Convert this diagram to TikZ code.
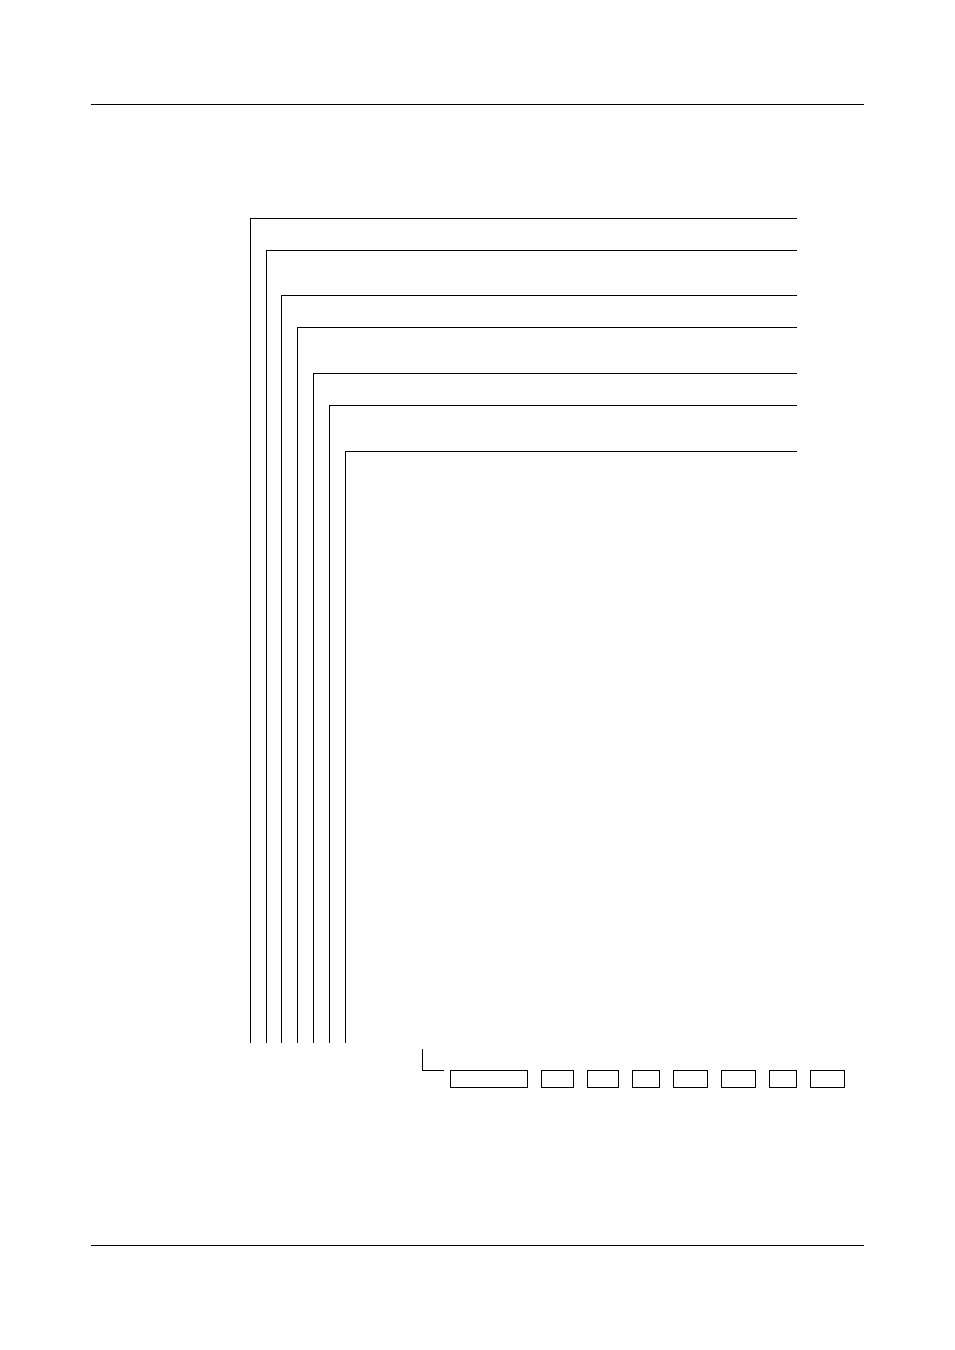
\documentclass[tikz,border=0pt]{standalone}
\begin{document}
\begin{tikzpicture}[x=1pt,y=-1pt,
  rule/.style={line width=0.9pt, black},
  frame/.style={line width=1pt, black},
  cell/.style={draw, line width=1pt, minimum height=17pt, inner sep=0pt, outer sep=0pt, anchor=north west}]
\useasboundingbox (0,0) rectangle (954,1350);
% header and footer rules
\coordinate (hl) at (91,104); \coordinate (hr) at (863.5,104);
\coordinate (fl) at (91,1245.3); \coordinate (fr) at (863.5,1245.3);
\draw[rule] (hl) -- (hr);
\draw[rule] (fl) -- (fr);
% nested L-shaped lines
\foreach \x/\y in {250.3/218.3, 266.3/250.3, 281.3/295.7, 297.3/327.3, 313.3/373.3, 329.3/405.3, 345.3/451.3}{
  \draw[frame] (\x,1043.3) -- (\x,\y) -- (796.7,\y);
}
% bracket
\coordinate (b1) at (422.3,1049.3);
\coordinate (b2) at (422.3,1070.3);
\coordinate (b3) at (444.3,1070.3);
\draw[frame] (b1) -- (b2) -- (b3);
% boxes
\node[cell, minimum width=77pt] (c1) at (450.3,1070.3) {};
\node[cell, minimum width=32pt] (c2) at (541.3,1070.3) {};
\node[cell, minimum width=31pt] (c3) at (587.3,1070.3) {};
\node[cell, minimum width=27.4pt] (c4) at (632.3,1070.3) {};
\node[cell, minimum width=34.4pt] (c5) at (673.3,1070.3) {};
\node[cell, minimum width=34.4pt] (c6) at (721.3,1070.3) {};
\node[cell, minimum width=26.6pt] (c7) at (769.7,1070.3) {};
\node[cell, minimum width=34pt] (c8) at (810.3,1070.3) {};
\end{tikzpicture}
\end{document}
